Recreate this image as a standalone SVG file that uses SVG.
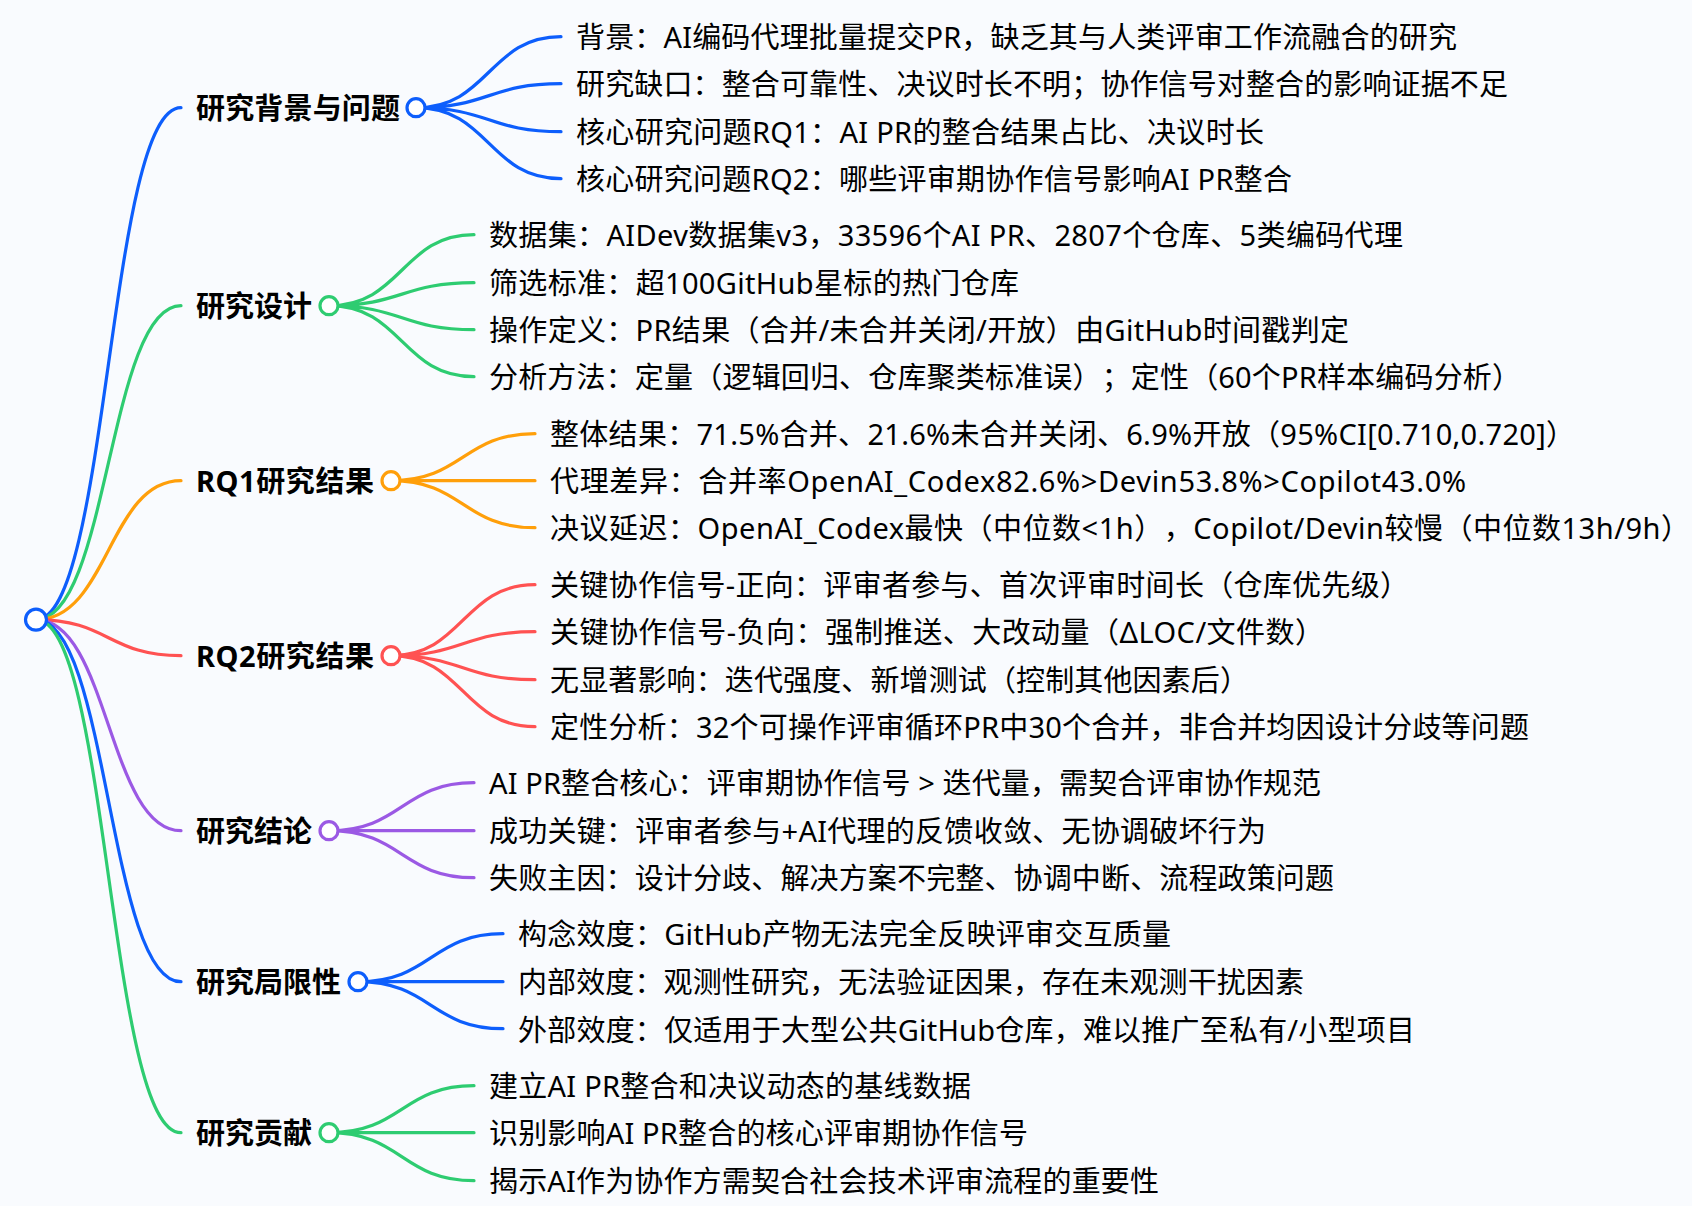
<svg xmlns="http://www.w3.org/2000/svg" width="1692" height="1206" viewBox="0 0 1692 1206">
<style>
text{font-family:"Noto Sans","Noto Sans CJK SC",sans-serif;font-size:29px;fill:#000;text-spacing-trim:space-all}
.h{font-weight:700}
.c path{fill:none;stroke-width:3.2;stroke-linecap:round}
circle{fill:#fff;stroke-width:3.2;transform:translateY(.7px)}
.b{stroke:#0d5efc}.g{stroke:#2ecc71}.o{stroke:#ff9f0a}.r{stroke:#ff5252}.p{stroke:#9b59e4}
</style>
<rect width="1692" height="1206" fill="#f9fbfe"/>
<g id="connectors" class="c" transform="translate(0 .7)">
<path class="b" d="M36 619C108.500 619 108.500 107 181 107"/>
<path class="g" d="M36 619C108.500 619 108.500 305 181 305"/>
<path class="o" d="M36 619C108.500 619 108.500 480 181 480"/>
<path class="r" d="M36 619C108.500 619 108.500 655 181 655"/>
<path class="p" d="M36 619C108.500 619 108.500 830 181 830"/>
<path class="b" d="M36 619C108.500 619 108.500 981 181 981"/>
<path class="g" d="M36 619C108.500 619 108.500 1132 181 1132"/>
<path class="b" d="M416 107C489 107 489 36 561 36M416 107C489 107 489 83 561 83M416 107C489 107 489 131 561 131M416 107C489 107 489 178 561 178"/>
<path class="g" d="M329 305C402 305 402 234 474 234M329 305C402 305 402 282 474 282M329 305C402 305 402 329 474 329M329 305C402 305 402 376 474 376"/>
<path class="o" d="M391 480C463 480 463 433 535 433M391 480L535 480M391 480C463 480 463 527 535 527"/>
<path class="r" d="M391 655C463 655 463 584 535 584M391 655C463 655 463 631 535 631M391 655C463 655 463 679 535 679M391 655C463 655 463 726 535 726"/>
<path class="p" d="M329 830C402 830 402 782 474 782M329 830L474 830M329 830C402 830 402 877 474 877"/>
<path class="b" d="M358 981C431 981 431 933 503 933M358 981L503 981M358 981C431 981 431 1028 503 1028"/>
<path class="g" d="M329 1132C402 1132 402 1085 474 1085M329 1132L474 1132M329 1132C402 1132 402 1180 474 1180"/>
</g>
<g id="root"><circle class="b" cx="36" cy="619" r="10.500"/></g>
<g id="n1"><circle class="b" cx="416" cy="107" r="9"/><text class="h" x="196" y="119" textLength="204">研究背景与问题</text></g>
<g id="n1-1"><text x="576" y="48" textLength="881">背景：AI编码代理批量提交PR，缺乏其与人类评审工作流融合的研究</text></g>
<g id="n1-2"><text x="576" y="95" textLength="932">研究缺口：整合可靠性、决议时长不明；协作信号对整合的影响证据不足</text></g>
<g id="n1-3"><text x="576" y="143" textLength="688">核心研究问题RQ1：AI PR的整合结果占比、决议时长</text></g>
<g id="n1-4"><text x="576" y="190" textLength="716">核心研究问题RQ2：哪些评审期协作信号影响AI PR整合</text></g>
<g id="n2"><circle class="g" cx="329" cy="305" r="9"/><text class="h" x="196" y="317" textLength="116">研究设计</text></g>
<g id="n2-1"><text x="489" y="246" textLength="914">数据集：AIDev数据集v3，33596个AI PR、2807个仓库、5类编码代理</text></g>
<g id="n2-2"><text x="489" y="294" textLength="530">筛选标准：超100GitHub星标的热门仓库</text></g>
<g id="n2-3"><text x="489" y="341" textLength="860">操作定义：PR结果（合并/未合并关闭/开放）由GitHub时间戳判定</text></g>
<g id="n2-4"><text x="489" y="388" textLength="1032">分析方法：定量（逻辑回归、仓库聚类标准误）；定性（60个PR样本编码分析）</text></g>
<g id="n3"><circle class="o" cx="391" cy="480" r="9"/><text class="h" x="196" y="492" textLength="178">RQ1研究结果</text></g>
<g id="n3-1"><text x="550" y="445" textLength="1025">整体结果：71.5%合并、21.6%未合并关闭、6.9%开放（95%CI[0.710,0.720]）</text></g>
<g id="n3-2"><text x="550" y="492" textLength="916">代理差异：合并率OpenAI_Codex82.6%&gt;Devin53.8%&gt;Copilot43.0%</text></g>
<g id="n3-3"><text x="550" y="539" textLength="1140">决议延迟：OpenAI_Codex最快（中位数&lt;1h），Copilot/Devin较慢（中位数13h/9h）</text></g>
<g id="n4"><circle class="r" cx="391" cy="655" r="9"/><text class="h" x="196" y="667" textLength="178">RQ2研究结果</text></g>
<g id="n4-1"><text x="550" y="596" textLength="859">关键协作信号-正向：评审者参与、首次评审时间长（仓库优先级）</text></g>
<g id="n4-2"><text x="550" y="643" textLength="774">关键协作信号-负向：强制推送、大改动量（ΔLOC/文件数）</text></g>
<g id="n4-3"><text x="550" y="691" textLength="699">无显著影响：迭代强度、新增测试（控制其他因素后）</text></g>
<g id="n4-4"><text x="550" y="738" textLength="979">定性分析：32个可操作评审循环PR中30个合并，非合并均因设计分歧等问题</text></g>
<g id="n5"><circle class="p" cx="329" cy="830" r="9"/><text class="h" x="196" y="842" textLength="116">研究结论</text></g>
<g id="n5-1"><text x="489" y="794" textLength="832">AI PR整合核心：评审期协作信号 &gt; 迭代量，需契合评审协作规范</text></g>
<g id="n5-2"><text x="489" y="842" textLength="777">成功关键：评审者参与+AI代理的反馈收敛、无协调破坏行为</text></g>
<g id="n5-3"><text x="489" y="889" textLength="845">失败主因：设计分歧、解决方案不完整、协调中断、流程政策问题</text></g>
<g id="n6"><circle class="b" cx="358" cy="981" r="9"/><text class="h" x="196" y="993" textLength="145">研究局限性</text></g>
<g id="n6-1"><text x="518" y="945" textLength="653">构念效度：GitHub产物无法完全反映评审交互质量</text></g>
<g id="n6-2"><text x="518" y="993" textLength="786">内部效度：观测性研究，无法验证因果，存在未观测干扰因素</text></g>
<g id="n6-3"><text x="518" y="1041" textLength="897">外部效度：仅适用于大型公共GitHub仓库，难以推广至私有/小型项目</text></g>
<g id="n7"><circle class="g" cx="329" cy="1132" r="9"/><text class="h" x="196" y="1144" textLength="116">研究贡献</text></g>
<g id="n7-1"><text x="489" y="1097" textLength="482">建立AI PR整合和决议动态的基线数据</text></g>
<g id="n7-2"><text x="489" y="1144" textLength="539">识别影响AI PR整合的核心评审期协作信号</text></g>
<g id="n7-3"><text x="489" y="1192" textLength="670">揭示AI作为协作方需契合社会技术评审流程的重要性</text></g>
</svg>
